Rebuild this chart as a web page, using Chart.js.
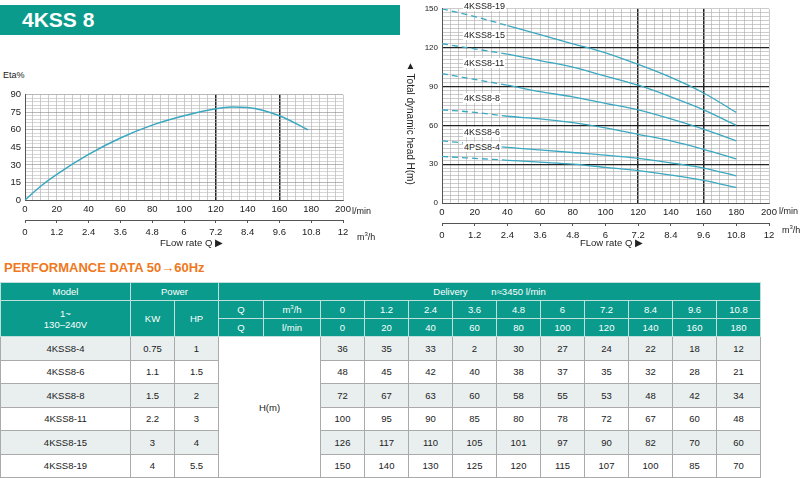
<!DOCTYPE html>
<html><head><meta charset="utf-8">
<script src="https://cdn.jsdelivr.net/npm/chart.js@4"></script>
<style>
body{margin:0;width:800px;height:478px;position:relative;background:#fff;font-family:"Liberation Sans",Arial,sans-serif;overflow:hidden}
.a{position:absolute}
#hdr{left:0;top:5;width:400px;height:30px;background:#0a9b8c;top:5px;color:#fff;font-weight:bold;font-size:21px;line-height:30px;padding-left:22px;box-sizing:border-box}
.t{font-size:9px;color:#222;white-space:nowrap}
#perf{left:4px;top:260px;color:#f07820;font-weight:bold;font-size:13px}
table{position:absolute;left:0;top:282px;border-collapse:collapse;font-size:9.5px;color:#222}
td{border:1px solid #aaa;text-align:center;padding:0;height:17px}
tr.h td{background:#0a9b8c;color:#fff;border-color:#bfe0dc}
tr.d td{height:22.5px}
tr.s td{background:#e9efef}
td.w{background:#fff!important}
</style></head><body>
<div id="hdr" class="a">4KSS 8</div>
<div class="a t" style="left:3px;top:70px">Eta%</div>
<div class="a" style="left:0;top:85px;width:400px;height:160px"><canvas id="c1"></canvas></div>
<div class="a t" style="left:352px;top:206px">l/min</div>
<div class="a t" style="left:357px;top:231px">m<sup style="font-size:6px">3</sup>/h</div>
<div class="a t" style="left:160px;top:237px;font-size:9.5px">FLow rate Q ▶</div>
<div class="a" style="left:400px;top:0;width:400px;height:245px"><canvas id="c2"></canvas></div>
<div class="a t" style="left:405px;top:60px;writing-mode:vertical-rl;font-size:10px">▲ Total dynamic head H(m)</div>
<div class="a t" style="left:779px;top:206px">l/min</div>
<div class="a t" style="left:782px;top:224px">m<sup style="font-size:6px">3</sup>/h</div>
<div class="a t" style="left:580px;top:237px;font-size:9.5px">FLow rate Q ▶</div>
<div id="lbls"></div>
<div id="perf" class="a">PERFORMANCE DATA 50→60Hz</div>
<table id="tb"></table>
<script>
const flowLmin=[0,20,40,60,80,100,120,140,160,180];
const flowM3h=['0','1.2','2.4','3.6','4.8','6','7.2','8.4','9.6','10.8'];
const models=['4KSS8-4','4KSS8-6','4KSS8-8','4KSS8-11','4KSS8-15','4KSS8-19'];
const curveNames=['4PSS8-4','4KSS8-6','4KSS8-8','4KSS8-11','4KSS8-15','4KSS8-19'];
const kw=['0.75','1.1','1.5','2.2','3','4'];
const hp=['1','1.5','2','3','4','5.5'];
const headTable=[[36,35,33,2,30,27,24,22,18,12],[48,45,42,40,38,37,35,32,28,21],[72,67,63,60,58,55,53,48,42,34],[100,95,90,85,80,78,72,67,60,48],[126,117,110,105,101,97,90,82,70,60],[150,140,130,125,120,115,107,100,85,70]];
const headCurve=[[36,34.5,33,31.5,30,27.5,25,21.5,17.5,12],[48,45.5,43,41,39,37,34.5,31,27,21],[72,70,67,65,62,58,53,48,41.5,34],[100,95.5,91,86,82,77,72,65,57,48],[123,119,115,110,105,98,91,82,72,60],[150,144,137,130,123,116,107,97,85,70]];
const etaQ=[0,10,20,40,60,80,100,120,130,140,160,178];
const etaV=[0,12,22,39,53,64,72,78,79.5,79,72,60];
const teal='#3aa8c0';
Chart.defaults.font.family='"Liberation Sans",Arial,sans-serif';
Chart.defaults.font.size=9.5;Chart.defaults.color='#222';
function gx(bold){return {color:c=>bold.includes(c.tick.value)?'#222':'#aaa',lineWidth:c=>bold.includes(c.tick.value)?1.5:0.6,drawTicks:false};}
function xAxes(w){return {
 x:{type:'linear',min:0,max:200,position:'bottom',ticks:{stepSize:5,autoSkip:false,maxRotation:0,padding:4,callback:v=>v%20===0?v:''},grid:gx([120,160]),border:{color:'#555'},afterFit:a=>{a.height=w[0]}},
 x2:{type:'linear',min:0,max:12,position:'bottom',ticks:{stepSize:1.2,autoSkip:false,maxRotation:0,padding:4,callback:v=>(+v.toFixed(1)).toString()},grid:{display:true,drawOnChartArea:false,tickLength:3,color:'#555'},border:{color:'#555'},afterFit:a=>{a.height=w[1]}}};}
new Chart(c1,{type:'line',data:{datasets:[{data:etaQ.map((q,i)=>({x:q,y:etaV[i]})),borderColor:teal,borderWidth:1.5,pointRadius:0,tension:0.4,cubicInterpolationMode:'monotone'}]},
options:{animation:false,responsive:true,maintainAspectRatio:false,plugins:{legend:{display:false},tooltip:{enabled:false}},layout:{padding:{right:57,top:7}},
scales:{...xAxes([20,25]),y:{min:0,max:90,ticks:{stepSize:3,autoSkip:false,padding:4,callback:v=>v%15===0?v:''},grid:{color:c=>c.tick.value%15===0?'#888':'#bbb',lineWidth:0.6,drawTicks:false},border:{color:'#555'},afterFit:a=>{a.width=25}}}}});
new Chart(c2,{type:'line',data:{datasets:headCurve.map(h=>({data:flowLmin.map((q,i)=>({x:q,y:h[i]})),borderColor:teal,borderWidth:1.3,pointRadius:0,cubicInterpolationMode:'monotone',segment:{borderDash:c=>c.p1DataIndex<=2?[6,4]:undefined}}))},
options:{animation:false,responsive:true,maintainAspectRatio:false,plugins:{legend:{display:false},tooltip:{enabled:false}},layout:{padding:{right:31,top:4}},
scales:{...xAxes([20,22]),y:{min:0,max:150,ticks:{stepSize:3,autoSkip:false,padding:4,font:{size:8},callback:v=>v%30===0?v:''},grid:{color:c=>[30,60,90,120].includes(c.tick.value)?'#222':'#aaa',lineWidth:c=>[30,60,90,120].includes(c.tick.value)?1.3:0.6,drawTicks:false},border:{color:'#555'},afterFit:a=>{a.width=42}}}}});
const lp=[[463,142],[463,127],[463,93],[463,58],[463,30],[463,1]];
document.getElementById('lbls').innerHTML=curveNames.map((n,i)=>`<div class="a t" style="left:${lp[i][0]}px;top:${lp[i][1]}px;background:#fff;padding:0 1px">${n}</div>`).join('');
let h=`<tr class="h"><td style="width:129px">Model</td><td colspan="2">Power</td><td colspan="13">Delivery&nbsp;&nbsp;&nbsp;&nbsp;&nbsp;&nbsp;&nbsp;&nbsp; n≈3450 l/min</td></tr>`;
h+=`<tr class="h"><td rowspan="2">1~<br>130–240V</td><td rowspan="2" style="width:43px">KW</td><td rowspan="2" style="width:43px">HP</td><td style="width:44px">Q</td><td style="width:56px">m<sup style="font-size:6px">3</sup>/h</td>${flowM3h.map(v=>`<td style="width:43px">${v}</td>`).join('')}</tr>`;
h+=`<tr class="h"><td>Q</td><td>l/min</td>${flowLmin.map(v=>`<td>${v}</td>`).join('')}</tr>`;
models.forEach((m,i)=>{h+=`<tr class="d${i%2==0?' s':''}"><td>${m}</td><td>${kw[i]}</td><td>${hp[i]}</td>${i==0?'<td colspan="2" rowspan="6" class="w">H(m)</td>':''}${headTable[i].map(v=>`<td>${v}</td>`).join('')}</tr>`;});
document.getElementById('tb').innerHTML=h;
</script></body></html>
